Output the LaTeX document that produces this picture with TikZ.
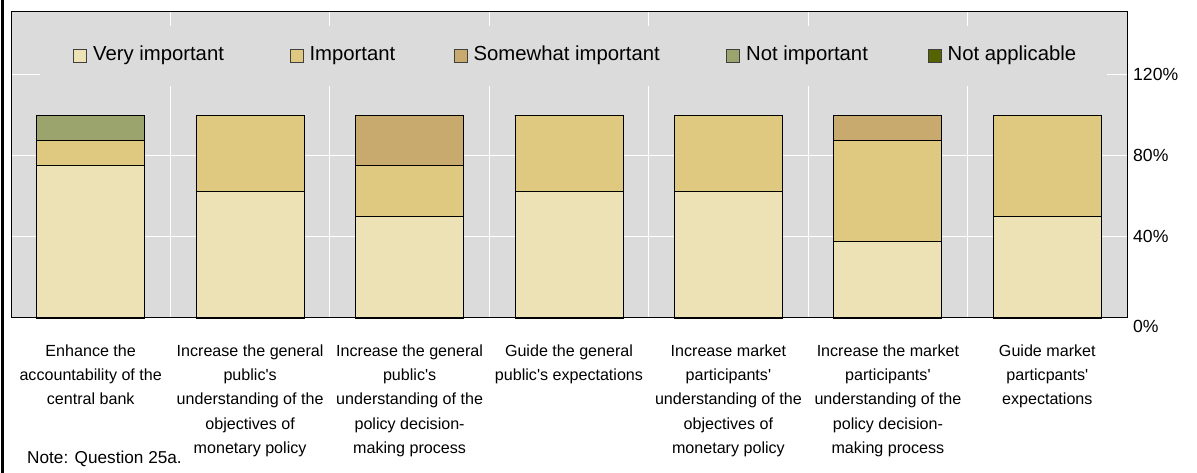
\documentclass[tikz,border=0pt]{standalone}
\usepackage{fontspec}
\setmainfont{Liberation Sans}
\usepackage{xcolor}
\usetikzlibrary{positioning}

\definecolor{veryimp}{RGB}{237,226,181}
\definecolor{imp}{RGB}{223,201,128}
\definecolor{somewhat}{RGB}{200,170,110}
\definecolor{notimp}{RGB}{155,164,108}
\definecolor{notapp}{RGB}{85,100,0}
\definecolor{plotgray}{RGB}{219,219,219}
\newcommand{\sq}{\textquotesingle}

\begin{document}
\begin{tikzpicture}[x=1bp,y=1bp,
  seg/.style={draw=black,line width=0.9bp},
  gridline/.style={white,line width=1bp},
  legsq/.style={draw=black!75,line width=0.8bp,minimum size=13bp,inner sep=0pt},
  legtxt/.style={font=\fontsize{20.3bp}{24bp}\selectfont,inner sep=0pt,anchor=base west},
  catlab/.style={font=\fontsize{16.1bp}{24.3bp}\selectfont,align=center,anchor=north,inner sep=0pt},
  pct/.style={font=\fontsize{17.6bp}{20bp}\selectfont,anchor=west,inner sep=0pt}]
\useasboundingbox (0,0) rectangle (1197,473);
\fill[white] (0,0) rectangle (1197,473);
\draw[line width=2.5bp] (2.75,0)--(2.75,473);
% plot area and grid
\fill[plotgray] (11,155) rectangle (1127,461);
\foreach \k in {1,...,6}
  \draw[gridline] ({11+159.43*\k},155)--({11+159.43*\k},461);
\foreach \p in {40,80,120}
  \draw[gridline] (11,{155+2.03*\p})--(1127,{155+2.03*\p});
% legend
\fill[plotgray] (40,387) rectangle (1107,447);
\node[legsq,fill=veryimp] (sqVI) at (80,417) {};
\node[legtxt] (txtVI) at ([xshift=6bp,yshift=-5bp]sqVI.east) {Very important};
\node[legsq,fill=imp] (sqI) at (296.5,417) {};
\node[legtxt] (txtI) at ([xshift=6bp,yshift=-5bp]sqI.east) {Important};
\node[legsq,fill=somewhat] (sqSW) at (460.5,417) {};
\node[legtxt] (txtSW) at ([xshift=6bp,yshift=-5bp]sqSW.east) {Somewhat important};
\node[legsq,fill=notimp] (sqNI) at (733,417) {};
\node[legtxt] (txtNI) at ([xshift=6bp,yshift=-5bp]sqNI.east) {Not important};
\node[legsq,fill=notapp] (sqNA) at (934.5,417) {};
\node[legtxt] (txtNA) at ([xshift=6bp,yshift=-5bp]sqNA.east) {Not applicable};
% bars (cumulative shares)
\begin{scope}[shift={(11,155)},x=159.43bp,y=2.03bp]
\foreach \i/\a/\b/\c in {1/75/87.5/87.5, 2/62.5/100/100, 3/50/75/100,
    4/62.5/100/100, 5/62.5/100/100, 6/37.5/87.5/100, 7/50/100/100}{
  \draw[seg,fill=veryimp] (\i-0.839,0) rectangle (\i-0.161,\a);
  \draw[seg,fill=imp] (\i-0.839,\a) rectangle (\i-0.161,\b);
  \draw[seg,fill=somewhat] (\i-0.839,\b) rectangle (\i-0.161,\c);
  \draw[seg,fill=notimp] (\i-0.839,\c) rectangle (\i-0.161,100);
}
\end{scope}
\draw[line width=1bp] (11,155) rectangle (1127,461);
% axis labels
\node[pct] (p0) at (1133,147) {0\%};
\node[pct] (p40) at (1133,236.2) {40\%};
\node[pct] (p80) at (1133,317.4) {80\%};
\node[pct] (p120) at (1133,398.6) {120\%};
% categories
\node[catlab] (cat1) at (90.7,128.5) {Enhance the\\accountability of the\\central bank};
\node[catlab] (cat2) at (250.1,128.5) {Increase the general\\public\sq s\\understanding of the\\objectives of\\monetary policy};
\node[catlab] (cat3) at (409.6,128.5) {Increase the general\\public\sq s\\understanding of the\\policy decision-\\making process};
\node[catlab] (cat4) at (569.0,128.5) {Guide the general\\public\sq s expectations};
\node[catlab] (cat5) at (728.4,128.5) {Increase market\\participants\sq\\understanding of the\\objectives of\\monetary policy};
\node[catlab] (cat6) at (887.9,128.5) {Increase the market\\participants\sq\\understanding of the\\policy decision-\\making process};
\node[catlab] (cat7) at (1047.3,128.5) {Guide market\\particpants\sq\\expectations};
\node[anchor=west,inner sep=0pt,font=\fontsize{17.2bp}{20bp}\selectfont] (note) at (27,14) {Note: Question 25a.};
\end{tikzpicture}
\end{document}
